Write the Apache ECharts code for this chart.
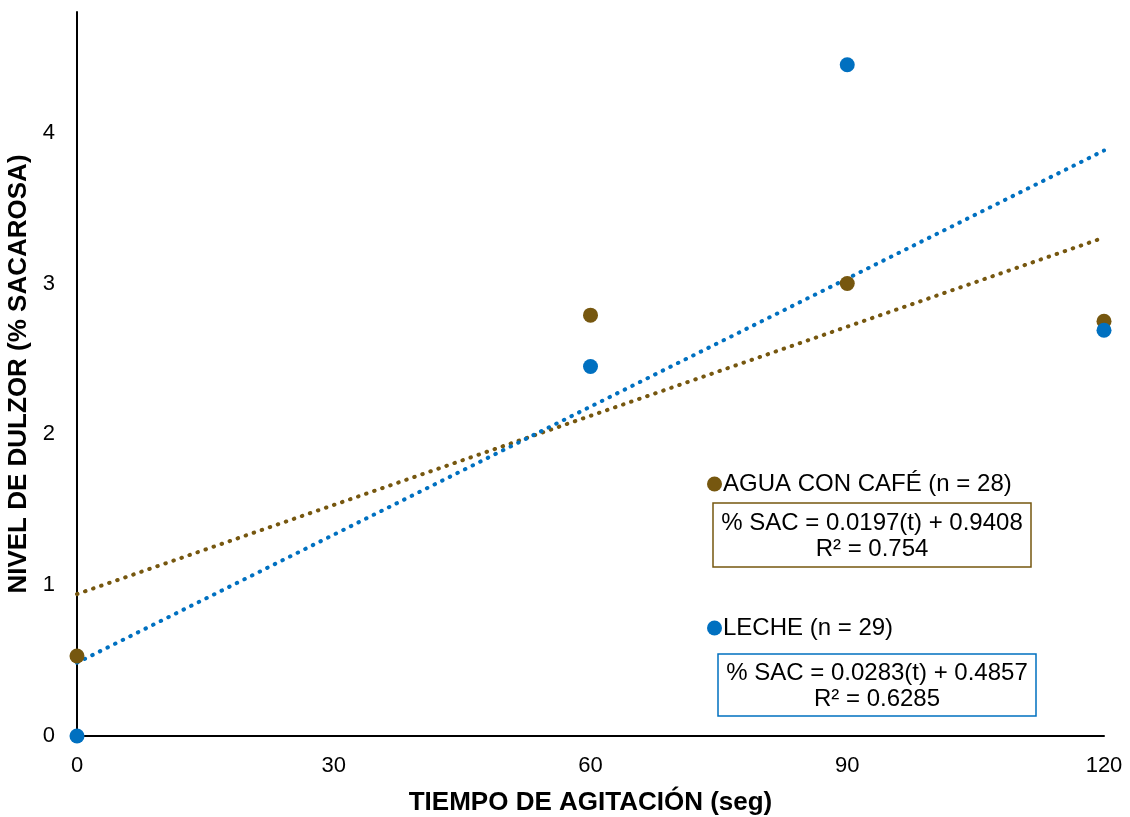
<!DOCTYPE html>
<html>
<head>
<meta charset="utf-8">
<script src="https://cdn.jsdelivr.net/npm/echarts@6/dist/echarts.min.js"></script>
<style>
  html, body { margin: 0; padding: 0; background: #fff; }
  #main { width: 1130px; height: 817px; }
</style>
</head>
<body>
<div id="main"></div>
<script>
var tiempos = [0, 60, 90, 120];
var cafe = [0.53, 2.79, 3.0, 2.75];
var leche = [0.0, 2.45, 4.45, 2.69];
// pendiente e intercepto de las líneas de tendencia
var cafeFit = [0.0197, 0.9408];
var lecheFit = [0.0283, 0.4857];
var xTicks = [0, 30, 60, 90, 120];

var colorCafe = '#76570f';
var colorLeche = '#0070c0';

function puntos(xs, ys) {
    return xs.map(function (x, i) { return [x, ys[i]]; });
}
function tendencia(fit) {
    var a = xTicks[0], b = xTicks[xTicks.length - 1];
    return [[a, fit[0] * a + fit[1]], [b, fit[0] * b + fit[1]]];
}

var dom = document.getElementById('main');
var myChart = echarts.init(dom);

var fuente = '"Liberation Sans", Arial, sans-serif';

var option = {
    animation: false,
    textStyle: { fontFamily: fuente },
    grid: { left: 77, right: 26, top: 12, bottom: 81, outerBoundsMode: 'none', containLabel: false },
    legend: [
        {
            data: ['AGUA CON CAFÉ (n = 28)'],
            left: 702, top: 467,
            icon: 'circle', itemWidth: 15, itemHeight: 15, itemGap: 4,
            textStyle: { fontSize: 24, color: '#000', padding: [0, 0, 0, -4] }
        },
        {
            data: ['LECHE (n = 29)'],
            left: 702, top: 611,
            icon: 'circle', itemWidth: 15, itemHeight: 15,
            textStyle: { fontSize: 24, color: '#000', padding: [0, 0, 0, -4] }
        }
    ],
    graphic: [
        {
            type: 'rect', x: 713, y: 503,
            shape: { width: 318, height: 64 },
            style: { fill: '#fff', stroke: colorCafe, lineWidth: 1.5 },
            z: 10
        },
        {
            type: 'text', x: 872, y: 536,
            style: {
                text: '% SAC = 0.0197(t) + 0.9408\nR² = 0.754',
                align: 'center', verticalAlign: 'middle',
                fontSize: 24, lineHeight: 26, fill: '#000', fontFamily: fuente
            },
            z: 11
        },
        {
            type: 'rect', x: 718, y: 654,
            shape: { width: 318, height: 62 },
            style: { fill: '#fff', stroke: colorLeche, lineWidth: 1.5 },
            z: 10
        },
        {
            type: 'text', x: 877, y: 686,
            style: {
                text: '% SAC = 0.0283(t) + 0.4857\nR² = 0.6285',
                align: 'center', verticalAlign: 'middle',
                fontSize: 24, lineHeight: 26, fill: '#000', fontFamily: fuente
            },
            z: 11
        }
    ],
    xAxis: {
        type: 'value',
        min: 0, max: 120, interval: 30,
        name: 'TIEMPO DE AGITACIÓN (seg)',
        nameLocation: 'middle', nameGap: 54,
        nameTextStyle: { fontSize: 26, fontWeight: 'bold', color: '#000' },
        axisLine: { show: true, onZero: false, lineStyle: { color: '#000', width: 2 } },
        axisTick: { show: false },
        splitLine: { show: false },
        axisLabel: { fontSize: 22, color: '#000', margin: 19 }
    },
    yAxis: {
        type: 'value',
        min: 0, max: 4.8, interval: 1,
        name: 'NIVEL DE DULZOR (% SACAROSA)',
        nameLocation: 'middle', nameGap: 38,
        nameTextStyle: { fontSize: 26, fontWeight: 'bold', color: '#000' },
        axisLine: { show: true, onZero: false, lineStyle: { color: '#000', width: 2 } },
        axisTick: { show: false },
        splitLine: { show: false },
        axisLabel: {
            fontSize: 22, color: '#000', margin: 22,
            formatter: function (v) { return v % 1 === 0 ? String(v) : ''; }
        }
    },
    series: [
        {
            name: 'tendencia café', type: 'line', data: tendencia(cafeFit),
            symbol: 'none', silent: true, z: 2,
            lineStyle: { color: colorCafe, width: 4, type: [0.5, 8], cap: 'round' }
        },
        {
            name: 'tendencia leche', type: 'line', data: tendencia(lecheFit),
            symbol: 'none', silent: true, z: 2,
            lineStyle: { color: colorLeche, width: 4, type: [0.5, 8], cap: 'round' }
        },
        {
            name: 'AGUA CON CAFÉ (n = 28)', type: 'scatter', data: puntos(tiempos, cafe),
            symbolSize: 15, itemStyle: { color: colorCafe, opacity: 1 }, z: 3
        },
        {
            name: 'LECHE (n = 29)', type: 'scatter', data: puntos(tiempos, leche),
            symbolSize: 15, itemStyle: { color: colorLeche, opacity: 1 }, z: 4
        }
    ]
};

myChart.setOption(option, true);

window.addEventListener('resize', function () {
    myChart.resize();
});
</script>
</body>
</html>
